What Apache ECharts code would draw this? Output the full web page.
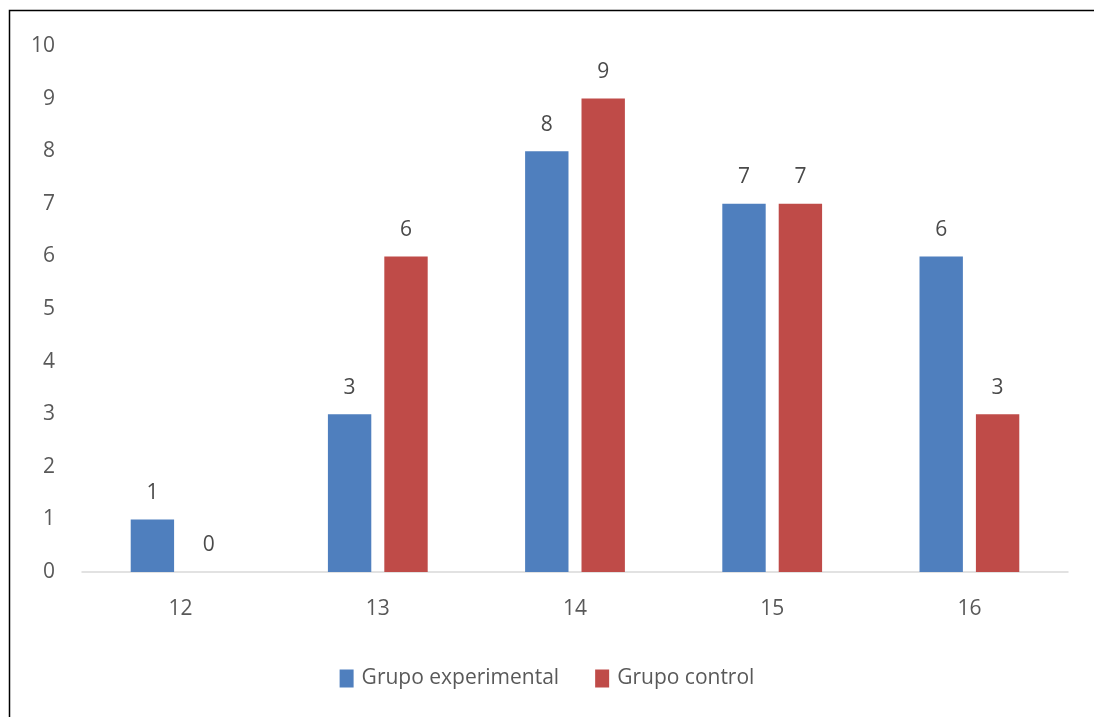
<!DOCTYPE html>
<html><head><meta charset="utf-8">
<script src="https://cdn.jsdelivr.net/npm/echarts@6/dist/echarts.min.js"></script>
<style>html,body{margin:0;padding:0;background:#fff}#c{width:1094px;height:717px}</style>
</head><body><div id="c"></div>
<script>
const categories = ['12','13','14','15','16'];
const seriesNames = ['Grupo experimental','Grupo control'];
const experimental = [1,3,8,7,6];
const control = [0,6,9,7,3];
const colors = ['#4F7FBE','#BF4B48'];
const chart = echarts.init(document.getElementById('c'));
const font = 'Open Sans';
const lbl = {show:true, position:'top', distance:16, color:'#4a4a4a', fontSize:21, fontFamily:font};
chart.setOption({
  animation:false,
  graphic:[{type:'rect', shape:{x:9.5,y:10.5,width:1200,height:800}, style:{fill:'none', stroke:'#000', lineWidth:1.5}}],
  grid:{left:82, right:26, top:46, bottom:145},
  legend:{top:663, left:'center', itemWidth:14, itemHeight:18, itemGap:36,
    textStyle:{color:'#595959', fontSize:21, fontFamily:font, padding:[0,0,0,3]}, icon:'rect'},
  xAxis:{type:'category', data:categories, axisTick:{show:false},
    axisLine:{lineStyle:{color:'#d9d9d9', width:1.5}},
    axisLabel:{color:'#595959', fontSize:21, fontFamily:font, margin:27}},
  yAxis:{type:'value', min:0, max:10, interval:1, splitLine:{show:false},
    axisLabel:{color:'#595959', fontSize:21, fontFamily:font, margin:27}},
  series:[
    {name:seriesNames[0], type:'bar', data:experimental, barWidth:'22%', barGap:'30%', itemStyle:{color:colors[0]}, label:lbl},
    {name:seriesNames[1], type:'bar', data:control, barWidth:'22%', barGap:'30%', itemStyle:{color:colors[1]}, label:lbl}
  ]
});
</script></body></html>
